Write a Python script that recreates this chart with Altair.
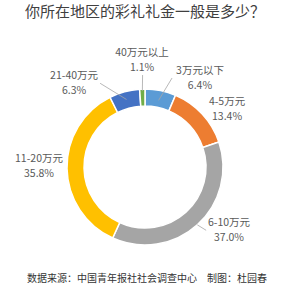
import math
import altair as alt
import pandas as pd

# ---- data ----
categories = ["3万元以下", "4-5万元", "6-10万元", "11-20万元", "21-40万元", "40万元以上"]
shares = [6.4, 13.4, 37.0, 35.8, 6.3, 1.1]
colors = ["#5B9BD5", "#ED7D31", "#A5A5A5", "#FFC000", "#4472C4", "#70AD47"]

title_text = "你所在地区的彩礼礼金一般是多少？"
footer_text = "数据来源：中国青年报社社会调查中心　制图：杜园春"

# ---- layout ----
CX, CY = 145, 167
R_OUT, R_IN = 78, 61
HALF_GAP = 7.5
# label placement (angle in degrees clockwise from 12 o'clock, radius px)
label_angle = [31.7, 55.2, 127.3, 270.5, 319.5, 358.4]
label_radius = [104.6, 99.9, 105.6, 106.0, 109.2, 107.0]
# leader lines: (start radius, end angle, end radius) or None
leaders = [(68, 16.9, 93), None, (78, 136.0, 88), None, (70, 331.8, 95), (76, 358.5, 92)]

total = sum(shares)
rows, lab_rows, line_rows = [], [], []
cum = 0.0
for i, (c, v) in enumerate(zip(categories, shares)):
    mid = (cum + v / 2) / total * 360
    cum += v
    rows.append({"cat": c, "val": v, "idx": i})
    a = math.radians(label_angle[i])
    lx = CX + label_radius[i] * math.sin(a)
    ly = CY - label_radius[i] * math.cos(a)
    lab_rows.append({"cat": c, "pct": f"{v:.1f}%", "x": lx,
                     "y1": ly - HALF_GAP, "y2": ly + HALF_GAP})
    if leaders[i]:
        rs, ea, er = leaders[i]
        m = math.radians(mid)
        e = math.radians(ea)
        line_rows.append({
            "x": CX + rs * math.sin(m), "y": CY - rs * math.cos(m),
            "x2": CX + er * math.sin(e), "y2": CY - er * math.cos(e),
        })

df = pd.DataFrame(rows)
labs = pd.DataFrame(lab_rows)
lines = pd.DataFrame(line_rows)

FONT = "Noto Sans CJK SC"
TXT = "#595959"

donut = alt.Chart(df).mark_arc(
    innerRadius=R_IN, outerRadius=R_OUT, stroke="white", strokeWidth=1.5
).encode(
    theta=alt.Theta("val:Q", stack=True),
    order=alt.Order("idx:Q"),
    color=alt.Color("cat:N", scale=alt.Scale(domain=categories, range=colors), legend=None),
    x=alt.value(CX),
    y=alt.value(CY),
)

leader = alt.Chart(lines).mark_rule(color="#A6A6A6", strokeWidth=0.8).encode(
    x=alt.X("x:Q", scale=None), y=alt.Y("y:Q", scale=None),
    x2="x2:Q", y2="y2:Q",
)

name_txt = alt.Chart(labs).mark_text(
    font=FONT, fontSize=10.5, color=TXT, align="center", baseline="middle"
).encode(x=alt.X("x:Q", scale=None), y=alt.Y("y1:Q", scale=None), text="cat:N")

pct_txt = alt.Chart(labs).mark_text(
    font=FONT, fontSize=10.5, color=TXT, align="center", baseline="middle"
).encode(x=alt.X("x:Q", scale=None), y=alt.Y("y2:Q", scale=None), text="pct:N")

title = alt.Chart(pd.DataFrame({"t": [title_text]})).mark_text(
    font=FONT, fontSize=15, color="#404040", align="center", baseline="middle"
).encode(x=alt.value(145), y=alt.value(12), text="t:N")

footer = alt.Chart(pd.DataFrame({"t": [footer_text]})).mark_text(
    font=FONT, fontSize=10, color="#333333", align="center", baseline="middle"
).encode(x=alt.value(147), y=alt.value(279), text="t:N")

chart = alt.layer(donut, leader, name_txt, pct_txt, title, footer).properties(
    width=300, height=300, autosize=alt.AutoSizeParams(type="none"), padding=0,
    background="white",
).configure_view(stroke=None)

chart.save("out.html", embed_options={"renderer": "svg", "actions": False})
